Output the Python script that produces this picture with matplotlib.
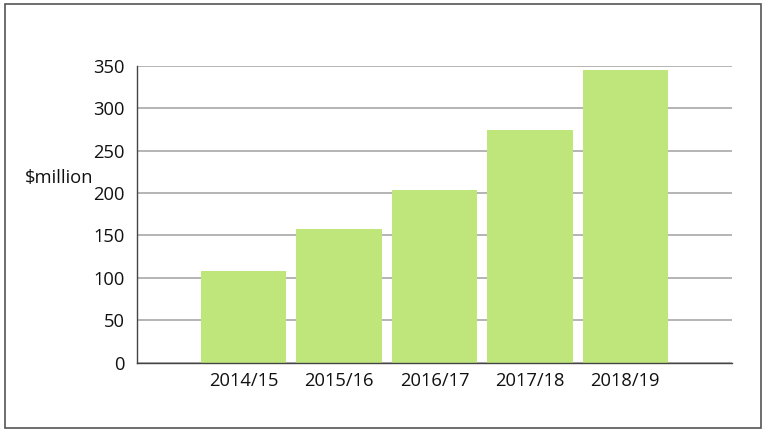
import matplotlib
matplotlib.use("Agg")
import matplotlib.pyplot as plt
from matplotlib.patches import Rectangle

categories = ["2014/15", "2015/16", "2016/17", "2017/18", "2018/19"]
values = [108, 157, 204, 274, 345]
yticks = [0, 50, 100, 150, 200, 250, 300, 350]

plt.rcParams['font.family'] = ['Open Sans', 'DejaVu Sans']

W, H = 768, 434
fig = plt.figure(figsize=(W/100, H/100), dpi=100)
ax = fig.add_axes([137/W, 1 - 362.5/H, (732-137)/W, (362.5-66)/H])

x = list(range(len(categories)))
ax.bar(x, values, width=85/95, color="#BFE67B", zorder=2)
ax.set_xlim(-1.12, 5.12)
ax.set_ylim(0, 350)
ax.set_yticks(yticks)
ax.set_xticks(x)
ax.set_xticklabels(categories)
ax.yaxis.grid(True, color="#A8A8A8", linewidth=1.2, zorder=0)
ax.set_axisbelow(True)
ax.tick_params(axis='both', length=0, labelsize=13.2, colors="#111111")
ax.tick_params(axis='y', pad=9)
ax.tick_params(axis='x', pad=7)
for s in ["top", "right"]:
    ax.spines[s].set_visible(False)
for s in ["left", "bottom"]:
    ax.spines[s].set_color("#444444")
    ax.spines[s].set_linewidth(1.0)

fig.text(59/W, 1 - 178/H, "$million", ha="center", va="center", fontsize=13.2, color="#111111")

fig.patches.append(Rectangle((5/W, 1 - 428/H), (761-5)/W, (428-3.5)/H,
                             transform=fig.transFigure, fill=False,
                             edgecolor="#555555", linewidth=1.2))

fig.savefig("out.png", dpi=100)
